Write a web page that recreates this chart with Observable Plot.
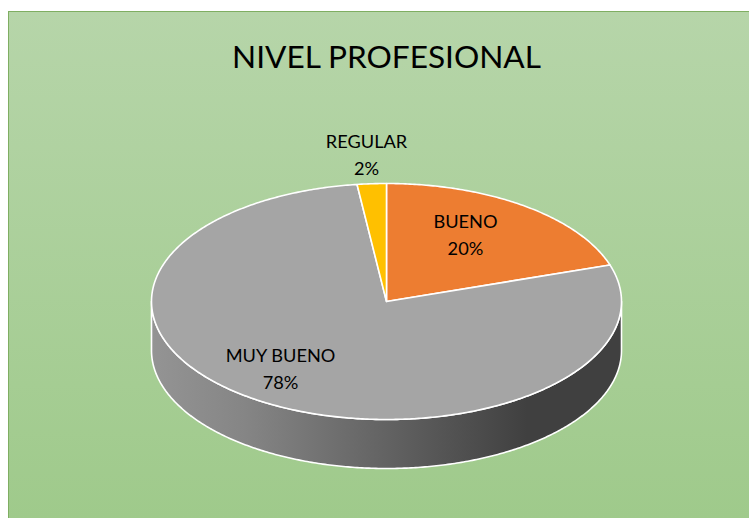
<!DOCTYPE html>
<html>
<head>
<meta charset="utf-8">
<script src="https://cdn.jsdelivr.net/npm/d3@7"></script>
<script src="https://cdn.jsdelivr.net/npm/@observablehq/plot@0.6"></script>
<style>
  html, body { margin: 0; padding: 0; background: #fff; overflow: hidden; }
  #panel {
    position: absolute; left: 8px; top: 11px; width: 741px; height: 507px;
    box-sizing: border-box;
    border-left: 1px solid #7fae62; border-top: 1px solid #7fae62;
    background: linear-gradient(180deg, #b6d5a9 0%, #9fca8b 100%);
  }
  #chart { position: absolute; left: 0; top: 0; }
</style>
</head>
<body>
<div id="panel"></div>
<div id="chart"></div>
<script>
const titleText = "NIVEL PROFESIONAL";
const categories = ["BUENO", "MUY BUENO", "REGULAR"];
const percentages = [20, 78, 2];
const sliceColors = ["#ed7d31", "#a5a5a5", "#ffc000"];

const tilt = 49 / 118; // wall height, in units of the top ellipse's minor radius
const FONT = "Lato, 'Noto Sans', sans-serif";

const arcs = d3.pie().sort(null).value((d, i) => percentages[i])(categories);

const arcPoints = (a0, a1) => {
  const n = Math.max(2, Math.ceil((a1 - a0) / 0.01));
  return d3.range(n + 1).map(i => a0 + (a1 - a0) * i / n);
};

const topRows = arcs.flatMap(s => [
  {name: s.data, x: 0, y: 0},
  ...arcPoints(s.startAngle, s.endAngle).map(t => ({name: s.data, x: Math.sin(t), y: Math.cos(t)})),
  {name: s.data, x: 0, y: 0}
]);

const front = arcPoints(Math.PI / 2, 3 * Math.PI / 2);
const wallRows = [
  ...front.map(t => ({x: Math.sin(t), y: Math.cos(t)})),
  ...front.slice().reverse().map(t => ({x: Math.sin(t), y: Math.cos(t) - tilt})),
  {x: 1, y: 0}
];

const labelPlacement = {
  "BUENO": {x: 0.336, y: 0.585},
  "MUY BUENO": {x: -0.451, y: -0.551},
  "REGULAR": {x: -0.085, y: 1.262}
};
const labelRows = categories.map((c, i) => ({
  text: `${c}\n${percentages[i]}%`,
  ...labelPlacement[c]
}));

const wallGradient = () => {
  const svg = d3.create("svg:defs");
  const g = svg.append("linearGradient").attr("id", "wall");
  g.append("stop").attr("offset", "0%").attr("stop-color", "#949494");
  g.append("stop").attr("offset", "20%").attr("stop-color", "#858585");
  g.append("stop").attr("offset", "80%").attr("stop-color", "#404040");
  g.append("stop").attr("offset", "100%").attr("stop-color", "#404040");
  return svg.node();
};

const plot = Plot.plot({
  width: 749,
  height: 518,
  margin: 0,
  style: {background: "transparent"},
  x: {domain: [-1, 1], range: [151, 621], axis: null},
  y: {domain: [-1, 1], range: [419, 183], axis: null},
  color: {domain: categories, range: sliceColors},
  marks: [
    wallGradient,
    Plot.line(wallRows, {x: "x", y: "y", fill: "url(#wall)", stroke: "#fff", strokeWidth: 1.6, clip: false}),
    Plot.line(topRows, {x: "x", y: "y", z: "name", fill: "name", stroke: "#fff", strokeWidth: 1.6, strokeLinejoin: "round"}),
    Plot.text(labelRows, {x: "x", y: "y", text: "text", fontFamily: FONT, fontSize: 18.2, lineHeight: 1.48, fill: "#000"}),
    Plot.text([titleText], {x: [0], y: [2.068], text: d => d, fontFamily: FONT, fontSize: 31.6, fill: "#000"})
  ]
});
document.getElementById("chart").appendChild(plot);
</script>
</body>
</html>
